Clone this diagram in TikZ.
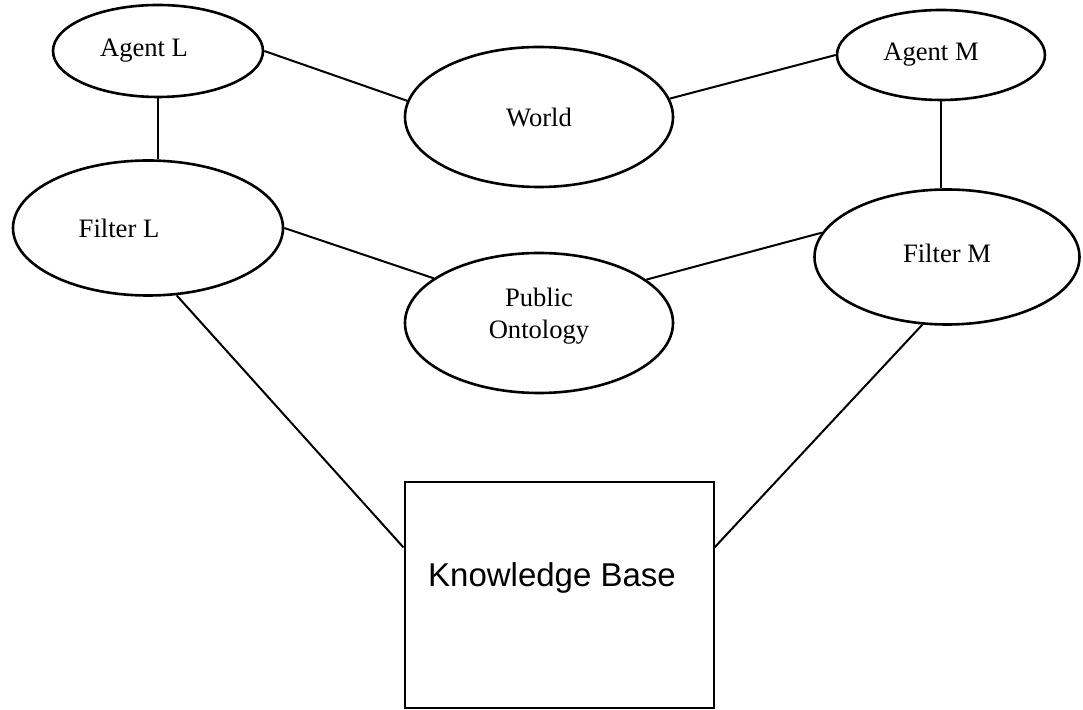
\documentclass[tikz,border=0pt]{standalone}
\usepackage{fontspec}
\setmainfont{Liberation Serif}
\setsansfont{Liberation Sans}
\usetikzlibrary{shapes.geometric}
\tikzset{
  oval/.style={ellipse, draw, line width=1.3pt, inner sep=0pt},
  kbbox/.style={rectangle, draw, line width=1pt, inner sep=0pt, minimum width=154.5pt, minimum height=113pt},
  link/.style={line width=1pt},
  txt/.style={font=\fontsize{13.3}{16}\selectfont, align=center, inner sep=0pt},
  kbtxt/.style={font=\sffamily\fontsize{16.5}{19}\selectfont, inner sep=0pt}
}
\begin{document}
\begin{tikzpicture}[x=0.5pt,y=-0.5pt]
\useasboundingbox (0,0) rectangle (1083,710);
% ovals
\node[oval, minimum width=105pt, minimum height=46pt, label={[txt,name=altxt,xshift=-7pt]center:Agent L}] (al) at (158,51) {};
\node[oval, minimum width=134pt, minimum height=70pt, label={[txt,name=wtxt]center:World}] (w) at (539,117) {};
\node[oval, minimum width=104pt, minimum height=45pt, label={[txt,name=amtxt,xshift=-5pt]center:Agent M}] (am) at (941,55) {};
\node[oval, minimum width=135pt, minimum height=67.5pt, label={[txt,name=fltxt,xshift=-14.5pt]center:Filter L}] (fl) at (148,228) {};
\node[oval, minimum width=134pt, minimum height=70pt, label={[txt,name=potxt,yshift=3.5pt]center:Public\\Ontology}] (po) at (539,323) {};
\node[oval, minimum width=132.5pt, minimum height=67.5pt, label={[txt,name=fmtxt,yshift=2pt]center:Filter M}] (fm) at (947,257) {};
% knowledge base
\node[kbbox, label={[kbtxt,name=kbtxt,xshift=-3.5pt,yshift=8.5pt]center:Knowledge Base}] (kb) at (559,595) {};

% links
\draw[link] (al.east) -- (w.173);
\draw[link] (w.8) -- (am.west);
\draw[link] (al.south) -- (al.south |- fl.north);
\draw[link] (am.south) -- (am.south |- fm.north);
\draw[link] (fl.east) -- (po.157);
\draw[link] (po.22) -- (fm.169);
\draw[link] (fl.293) -- (kb.163);
\draw[link] (fm.250) -- (kb.17);
\end{tikzpicture}
\end{document}
